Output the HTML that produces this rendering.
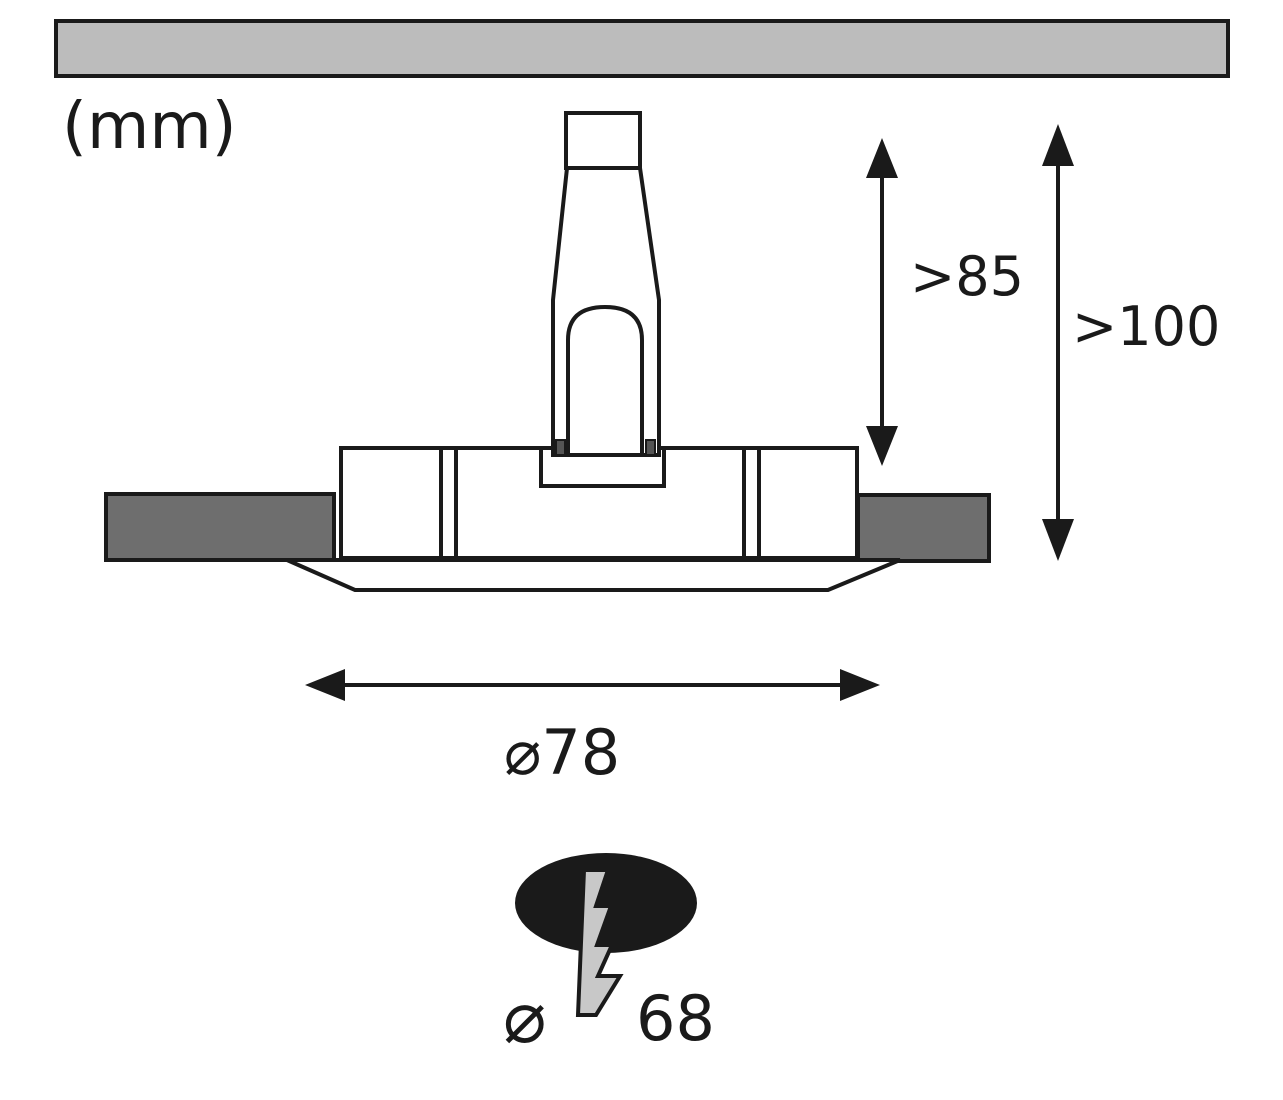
<!DOCTYPE html>
<html><head><style>body{margin:0;background:#fff}svg{display:block}text{font-family:"DejaVu Sans","Liberation Sans",sans-serif;fill:#1a1a1a}</style></head>
<body>
<svg width="1283" height="1100" viewBox="0 0 1283 1100" xmlns="http://www.w3.org/2000/svg">
<rect x="56" y="21" width="1172" height="55" fill="#bcbcbc" stroke="#1a1a1a" stroke-width="4"/>
<text x="62" y="148" font-size="64">(mm)</text>
<g stroke="#1a1a1a" stroke-width="4" fill="#fff">
<rect x="106" y="494" width="228" height="66" fill="#6e6e6e"/>
<rect x="858" y="495" width="131" height="66" fill="#6e6e6e"/>
<polygon points="287,560 355,590 828,590 900,560"/>
<rect x="341" y="448" width="516" height="110"/>
<line x1="441" y1="450" x2="441" y2="556"/><line x1="456" y1="450" x2="456" y2="556"/>
<line x1="744" y1="450" x2="744" y2="556"/><line x1="759" y1="450" x2="759" y2="556"/>
<rect x="541" y="448" width="123" height="38"/>
<polygon points="567,168 640,168 659,300 659,455 553,455 553,300"/>
<rect x="566" y="113" width="74" height="55"/>
<path d="M568,455 V340 Q568,307 605,307 Q642,307 642,340 V455" fill="none"/>
<rect x="556" y="440" width="9" height="15" fill="#555" stroke-width="2"/>
<rect x="646" y="440" width="9" height="15" fill="#555" stroke-width="2"/>
</g>
<g stroke="#1a1a1a" stroke-width="4">
<line x1="882" y1="160" x2="882" y2="445"/>
<line x1="1058" y1="145" x2="1058" y2="540"/>
<line x1="330" y1="685" x2="858" y2="685"/>
</g>
<g fill="#1a1a1a">
<polygon points="882,138 866,178 898,178"/><polygon points="882,466 866,426 898,426"/>
<polygon points="1058,124 1042,166 1074,166"/><polygon points="1058,561 1042,519 1074,519"/>
<polygon points="305,685 345,669 345,701"/><polygon points="880,685 840,669 840,701"/>
<ellipse cx="606" cy="903" rx="91" ry="50"/>
</g>
<polygon points="584,870 608,870 596,906 611,906 597,945 612,945 598,976 620,976 596,1015 578,1015" fill="#c8c8c8" stroke="#1a1a1a" stroke-width="4" stroke-linejoin="miter"/>
<text x="910" y="295" font-size="54">&gt;85</text>
<text x="1072" y="345" font-size="54">&gt;100</text>
<text x="504" y="774" font-size="62">⌀78</text>
<text x="503" y="1042" font-size="72">⌀</text>
<text x="636" y="1040" font-size="62">68</text>
</svg>
</body></html>
